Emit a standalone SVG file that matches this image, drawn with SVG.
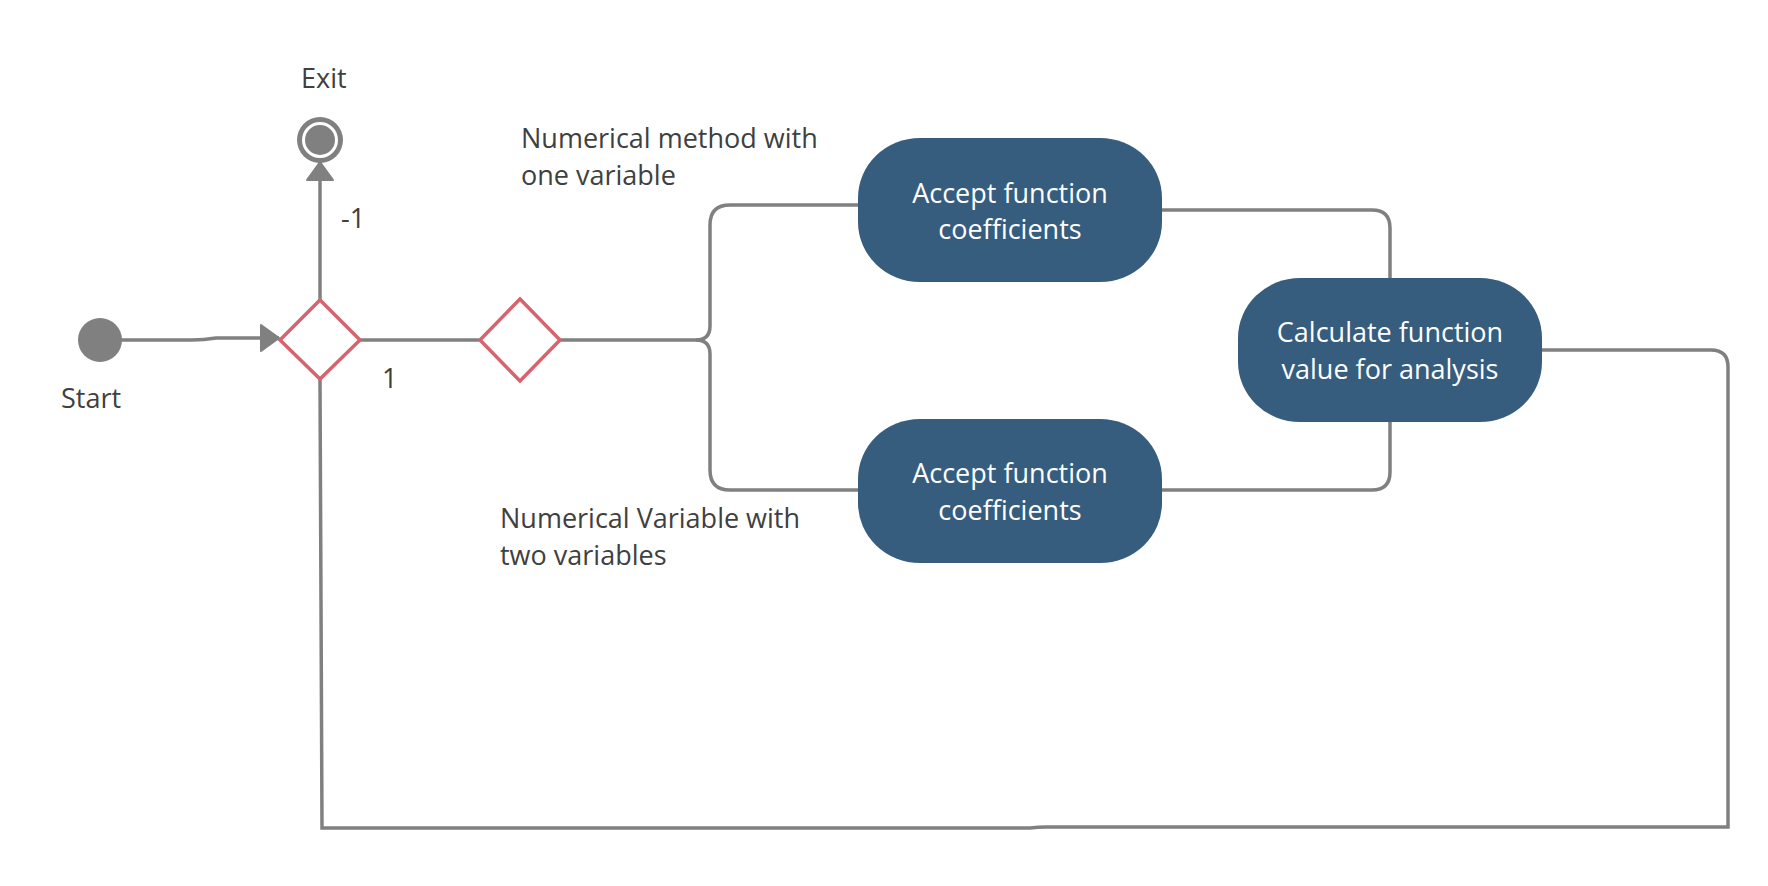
<svg xmlns="http://www.w3.org/2000/svg" width="1768" height="886" viewBox="0 0 1768 886">
<defs>
<marker id="arr" markerUnits="userSpaceOnUse" markerWidth="20" markerHeight="28" viewBox="0 0 20 28" refX="19" refY="14" orient="auto">
<path d="M1,1 L19,14 L1,27 Z" fill="#808080" stroke="#808080" stroke-width="2" stroke-linejoin="round"/>
</marker>
</defs>
<style>
.bg{fill:#ffffff}
.conn{fill:none;stroke:#808080;stroke-width:3.5}
.dec{fill:#ffffff;stroke:#d6646f;stroke-width:3.5}
.act{fill:#365d7e}
.at{font-family:"Open Sans","Noto Sans",sans-serif;font-size:27px;fill:#ffffff;text-anchor:middle}
.lbl{font-family:"Open Sans","Noto Sans",sans-serif;font-size:27px;fill:#404040}
</style>
<rect class="bg" x="0" y="0" width="1768" height="886"/>
<g id="connectors">
<path class="conn" d="M121,340 H192 Q204,340 216,338 H279" marker-end="url(#arr)"/>
<path class="conn" d="M320,300 V162" marker-end="url(#arr)"/>
<path class="conn" d="M360,340 H480"/>
<path class="conn" d="M560,340 H696 Q710,340 710,326 V225 Q710,205 730,205 H862"/>
<path class="conn" d="M696,340 Q710,340 710,354 V470 Q710,490 730,490 H862"/>
<path class="conn" d="M1160,210 H1372 Q1390,210 1390,228 V280"/>
<path class="conn" d="M1160,490 H1372 Q1390,490 1390,472 V420"/>
<path class="conn" d="M1540,350 H1711 Q1728,350 1728,367 V827 H1046 Q1038,827 1030,828 H322 L320,379"/>
</g>
<g id="start">
<circle cx="100" cy="340" r="22" fill="#808080"/>
<text class="lbl" x="61" y="408">Start</text>
</g>
<g id="exit">
<circle cx="320" cy="140" r="23" fill="#808080"/>
<circle cx="320" cy="140" r="16.5" fill="none" stroke="#ffffff" stroke-width="3"/>
<text class="lbl" x="301" y="88">Exit</text>
</g>
<g id="decision1">
<polygon class="dec" points="320,300 360,340 320,379 280,340"/>
<text class="lbl" x="341" y="228">-1</text>
<text class="lbl" x="382" y="388">1</text>
</g>
<g id="decision2">
<polygon class="dec" points="520,299 560,340 520,381 480,340"/>
<text class="lbl" x="521" y="148">Numerical method with</text>
<text class="lbl" x="521" y="185">one variable</text>
<text class="lbl" x="500" y="528">Numerical Variable with</text>
<text class="lbl" x="500" y="565">two variables</text>
</g>
<g id="accept1">
<rect class="act" x="858" y="138" width="304" height="144" rx="62" ry="60"/>
<text class="at" x="1010" y="203">Accept function</text>
<text class="at" x="1010" y="239">coefficients</text>
</g>
<g id="accept2">
<rect class="act" x="858" y="419" width="304" height="144" rx="62" ry="60"/>
<text class="at" x="1010" y="483">Accept function</text>
<text class="at" x="1010" y="520">coefficients</text>
</g>
<g id="calculate">
<rect class="act" x="1238" y="278" width="304" height="144" rx="62" ry="60"/>
<text class="at" x="1390" y="342">Calculate function</text>
<text class="at" x="1390" y="379">value for analysis</text>
</g>
</svg>
